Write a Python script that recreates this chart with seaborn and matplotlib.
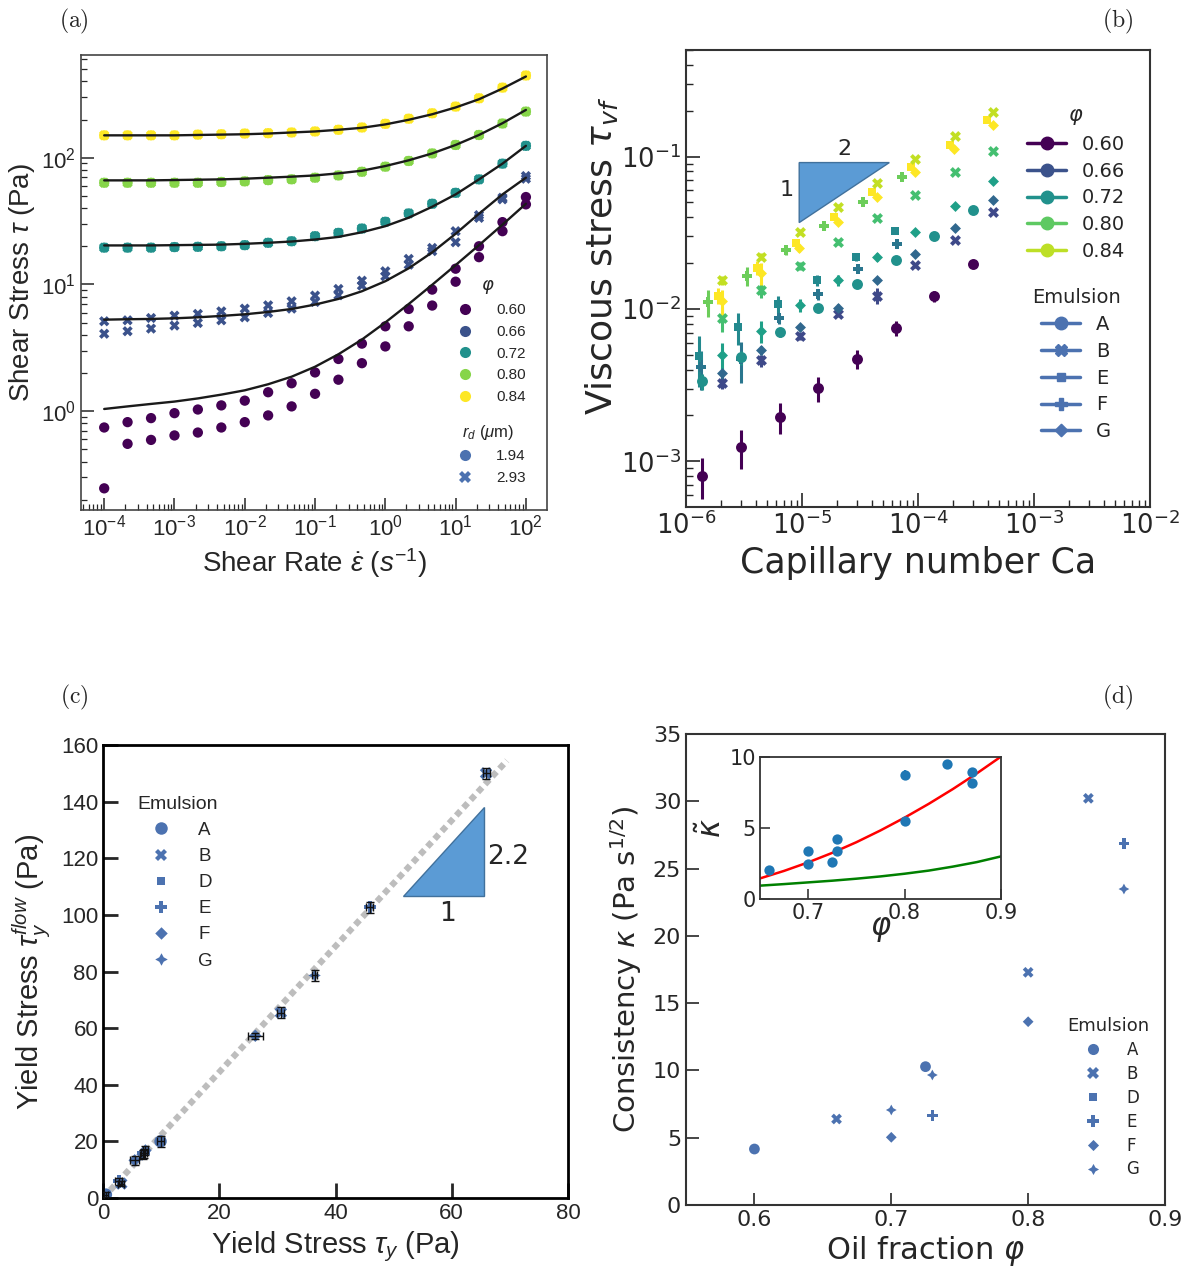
import numpy as np
import matplotlib.pyplot as plt
import pandas as pd
import seaborn as sns
from matplotlib.lines import Line2D
from matplotlib.ticker import LogLocator, NullFormatter

sns.set_style('ticks')
plt.rcParams['font.family'] = ['DejaVu Sans']
plt.rcParams['mathtext.fontset'] = 'dejavusans'
plt.rcParams['mathtext.rm'] = 'Liberation Sans'
plt.rcParams['mathtext.it'] = 'Liberation Sans:italic'
plt.rcParams['mathtext.bf'] = 'Liberation Sans:bold'

# %% data (a) flow curves
rate = [1e-4, 2.15e-4, 4.64e-4, 1e-3, 2.15e-3, 4.64e-3, 1e-2, 2.15e-2, 4.64e-2, 0.1,
        0.215, 0.464, 1.0, 2.15, 4.64, 10.0, 21.5, 46.4, 100.0]
tau_084 = [150, 150, 150, 150, 152, 153, 155, 156, 158, 161, 166, 173, 185, 203, 224, 253, 294, 357, 445]
tau_080 = [63.4, 63.4, 63.4, 63.4, 63.4, 64.3, 65.0, 66.5, 67.5, 69.5, 72.4, 77.4, 84.9, 94.2, 108, 126, 151, 186, 231]
tau_072 = [19.5, 19.5, 19.5, 19.7, 19.8, 20.0, 20.4, 21.3, 21.9, 24.0, 25.5, 27.6, 31.2, 36.3, 43.3, 52.8, 67.4, 89.7, 124]
tau_066_hi = [5.12, 5.21, 5.43, 5.67, 5.85, 6.13, 6.44, 6.84, 7.36, 8.16, 9.21, 10.7, 12.7, 15.9, 19.4, 26.3, 35.2, 48.3, 71.6]
tau_066_lo = [4.08, 4.27, 4.48, 4.73, 4.96, 5.21, 5.50, 5.95, 6.44, 7.27, 8.21, 9.79, 11.6, 14.3, 18.3, 21.5, 33.5, 46.9, 68.2]
tau_060_hi = [0.743, 0.819, 0.881, 0.964, 1.03, 1.11, 1.21, 1.41, 1.66, 2.02, 2.58, 3.41, 4.67, 6.40, 9.10, 13.3, 20.0, 31.0, 48.9]
tau_060_lo = [0.246, 0.552, 0.593, 0.643, 0.678, 0.743, 0.819, 0.925, 1.09, 1.37, 1.77, 2.39, 3.24, 4.67, 6.81, 10.5, 16.4, 26.3, 42.8]
fit_084 = [150, 150, 150, 150, 151, 152, 153, 155, 158, 161, 166, 172, 183, 199, 220, 249, 289, 351, 437]
fit_080 = [66.2, 66.2, 66.2, 66.6, 67.0, 67.4, 68.2, 69.5, 70.8, 72.4, 75.2, 78.9, 85.9, 95.3, 108, 126, 151, 187, 238]
fit_072 = [20.3, 20.3, 20.3, 20.4, 20.5, 20.6, 20.9, 21.3, 21.8, 22.6, 23.7, 25.8, 28.8, 33.6, 41.0, 51.3, 67.4, 89.7, 124]
fit_066 = [5.27, 5.31, 5.34, 5.40, 5.50, 5.64, 5.81, 6.06, 6.40, 6.93, 7.68, 8.83, 10.6, 13.4, 17.9, 25.1, 36.1, 51.3, 69.5]
fit_060 = [1.04, 1.09, 1.14, 1.19, 1.26, 1.35, 1.46, 1.63, 1.87, 2.24, 2.81, 3.67, 5.01, 7.00, 9.93, 14.2, 20.4, 29.6, 43.3]
phi_levels = ['0.60', '0.66', '0.72', '0.80', '0.84']
rd_levels = ['1.94', '2.93']
xticks_a = [1e-4, 1e-3, 1e-2, 1e-1, 1e0, 1e1, 1e2]
yticks_a = [1e0, 1e1, 1e2]

# %% data (b) viscous stress vs capillary number
ca_A = [1.38e-6, 2.98e-6, 6.40e-6, 1.38e-5, 2.97e-5, 6.41e-5, 1.37e-4, 2.96e-4]
ca_BG = [2.05e-6, 4.44e-6, 9.60e-6, 2.06e-5, 4.45e-5, 9.51e-5, 2.07e-4, 4.47e-4]
tvf_060_A = [8.05e-4, 1.25e-3, 1.95e-3, 3.01e-3, 4.71e-3, 7.48e-3, 1.21e-2, 1.97e-2]
err_060_A = [2.4e-4, 3.6e-4, 4.5e-4, 5.5e-4, 6.5e-4, 8.5e-4, 1.0e-3, 1.0e-3]
tvf_072_A = [3.35e-3, 4.81e-3, 7.05e-3, 1.02e-2, 1.46e-2, 2.10e-2, 3.03e-2, 4.47e-2]
err_072_A = [4e-4, 5e-4, 5e-4, 5e-4, 6e-4, 8e-4, 1e-3, 1e-3]
tvf_066_B = [3.27e-3, 4.59e-3, 6.61e-3, 9.29e-3, 1.22e-2, 1.93e-2, 2.84e-2, 4.30e-2]
err_066_B = [3e-4, 4e-4, 4e-4, 5e-4, 1.5e-3, 8e-4, 1e-3, 1.2e-3]
tvf_069_G = [3.79e-3, 5.35e-3, 7.60e-3, 1.02e-2, 1.55e-2, 2.30e-2, 3.42e-2, 5.20e-2]
err_069_G = [3e-4, 4e-4, 4e-4, 5e-4, 6e-4, 1e-3, 1.2e-3, 1.5e-3]
tvf_075_G = [5.00e-3, 7.19e-3, 1.06e-2, 1.54e-2, 2.21e-2, 3.22e-2, 4.75e-2, 6.97e-2]
err_075_G = [1e-3, 1.2e-3, 1.0e-3, 1.2e-3, 1.3e-3, 1.5e-3, 1.5e-3, 2e-3]
tvf_080_B = [8.71e-3, 1.34e-2, 1.92e-2, 2.77e-2, 3.98e-2, 5.61e-2, 7.89e-2, 1.09e-1]
err_080_B = [1.6e-3, 1.6e-3, 1.2e-3, 1.3e-3, 1.5e-3, 2e-3, 2e-3, 2e-3]
tvf_084_B = [1.54e-2, 2.21e-2, 3.22e-2, 4.70e-2, 6.76e-2, 9.66e-2, 1.37e-1, 1.95e-1]
err_084_B = [1e-3, 1.2e-3, 1.5e-3, 2e-3, 2.5e-3, 3e-3, 4e-3, 5e-3]
ca_F1 = [1.34e-6, 2.98e-6, 6.34e-6, 1.38e-5, 3.02e-5, 6.64e-5]
tvf_F1 = [4.13e-3, 4.69e-3, 8.71e-3, 1.25e-2, 1.83e-2, 2.68e-2]
err_F1 = [1.2e-3, 1.4e-3, 7e-4, 1e-3, 1e-3, 1.2e-3]
ca_E1 = [1.29e-6, 2.82e-6, 6.17e-6, 1.34e-5, 2.90e-5, 6.34e-5]
tvf_E1 = [4.89e-3, 7.57e-3, 1.08e-2, 1.55e-2, 2.21e-2, 3.26e-2]
err_E1 = [1.8e-3, 1.8e-3, 1.4e-3, 1.3e-3, 1.3e-3, 1.5e-3]
ca_F2 = [1.56e-6, 3.37e-6, 7.28e-6, 1.56e-5, 3.38e-5, 7.31e-5]
tvf_F2 = [1.11e-2, 1.65e-2, 2.42e-2, 3.48e-2, 5.02e-2, 7.31e-2]
err_F2 = [2.2e-3, 2.3e-3, 1.5e-3, 1.8e-3, 2e-3, 2.5e-3]
ca_E2 = [1.90e-6, 4.10e-6, 8.85e-6, 1.90e-5, 4.05e-5, 8.75e-5, 1.88e-4, 3.95e-4]
tvf_E2 = [1.22e-2, 1.87e-2, 2.72e-2, 4.02e-2, 5.85e-2, 8.50e-2, 1.20e-1, 1.75e-1]
err_E2 = [1.5e-3, 2e-3, 1.5e-3, 1.5e-3, 2e-3, 2e-3, 3e-3, 4e-3]
ca_G2 = [2.05e-6, 4.40e-6, 9.50e-6, 2.05e-5, 4.40e-5, 9.50e-5, 2.05e-4, 4.40e-4]
tvf_G2 = [1.12e-2, 1.72e-2, 2.52e-2, 3.72e-2, 5.45e-2, 7.90e-2, 1.12e-1, 1.62e-1]
err_G2 = [2.2e-3, 2.8e-3, 1.5e-3, 1.5e-3, 2e-3, 2e-3, 3e-3, 4e-3]
legend_phi_b = ['0.60', '0.66', '0.72', '0.80', '0.84']
emulsions_b = ['A', 'B', 'E', 'F', 'G']
tri_b_x = [9.46e-6, 5.66e-5, 9.46e-6]
tri_b_y = [0.0914, 0.0914, 0.0369]
xticks_b = [1e-6, 1e-5, 1e-4, 1e-3, 1e-2]
yticks_b = [1e-3, 1e-2, 1e-1]

# %% data (c) yield stress
emul_c = ['A', 'E', 'B', 'F', 'E', 'F', 'G', 'A', 'F', 'B', 'G', 'E', 'B']
tau_y_c = [0.5, 2.75, 3.15, 5.45, 7.0, 7.3, 6.8, 9.9, 26.2, 30.6, 36.4, 45.9, 65.9]
tau_flow_c = [1.2, 5.9, 5.1, 13.3, 15.8, 16.8, 15.3, 20.0, 57.3, 65.5, 78.6, 102.7, 150.0]
xerr_c = [0.3, 0.6, 0.5, 0.8, 0.5, 0.5, 0.5, 0.6, 1.3, 0.6, 0.5, 0.6, 0.6]
yerr_c = [0.8, 1.2, 1.0, 1.5, 1.5, 1.5, 1.5, 2.0, 1.0, 2.0, 2.0, 2.0, 2.0]
guide_c_x = [0.0, 69.5]
guide_c_y = [0.0, 154.5]
tri_c_x = [51.6, 65.5, 65.5]
tri_c_y = [106.5, 106.5, 138.2]
emulsions_cd = ['A', 'B', 'D', 'E', 'F', 'G']

# %% data (d) consistency
emul_d = ['A', 'A', 'B', 'B', 'B', 'E', 'E', 'F', 'F', 'G', 'G', 'G']
phi_d = [0.60, 0.725, 0.66, 0.80, 0.844, 0.73, 0.87, 0.70, 0.80, 0.70, 0.73, 0.87]
kappa_d = [4.16, 10.28, 6.39, 17.29, 30.22, 6.64, 26.87, 5.03, 13.62, 7.06, 9.66, 23.48]
phi_in = [0.659, 0.700, 0.700, 0.725, 0.730, 0.730, 0.800, 0.800, 0.844, 0.870, 0.870]
ktil_in = [2.05, 3.35, 2.45, 2.64, 4.25, 3.40, 5.47, 8.73, 9.53, 8.96, 8.18]
ktil_err = [0, 0, 0, 0, 0, 0, 0, 0.35, 0, 0, 0]
red_phi = [0.65, 0.675, 0.70, 0.725, 0.75, 0.775, 0.80, 0.825, 0.85, 0.875, 0.90]
red_k = [1.45, 1.98, 2.58, 3.25, 4.00, 4.83, 5.73, 6.70, 7.74, 8.85, 10.03]
green_phi = [0.65, 0.675, 0.70, 0.725, 0.75, 0.775, 0.80, 0.825, 0.85, 0.875, 0.90]
green_k = [0.94, 1.05, 1.17, 1.29, 1.43, 1.59, 1.78, 2.00, 2.28, 2.60, 3.00]

# %% styling helpers
pal_a = ['#440154', '#3b528b', '#21918c', '#86d549', '#fde725']
sns_blue = '#4c72b0'
mk = {'A': 'o', 'B': 'X', 'D': (4, 0, 45), 'E': 'P', 'F': (4, 0, 0), 'G': (4, 1, 0)}
mk_b = {'A': 'o', 'B': 'X', 'E': (4, 0, 45), 'F': 'P', 'G': (4, 0, 0)}

W, H = 1199, 1271
fig = plt.figure(figsize=(W / 100, H / 100), dpi=100)


def add_ax(l, t, r, b):
    return fig.add_axes([l / W, 1 - b / H, (r - l) / W, (b - t) / H])


def frame(ax, color, lw):
    for s in ax.spines.values():
        s.set_visible(True)
        s.set_color(color)
        s.set_linewidth(lw)


def log_minor(axis):
    axis.set_minor_locator(LogLocator(base=10, subs=np.arange(2, 10) * 1.0, numticks=30))
    axis.set_minor_formatter(NullFormatter())


# %% (a)
axa = add_ax(81, 55, 547, 510)
rows = []
for phi, rd, vals in [('0.60', '1.94', tau_060_hi), ('0.60', '1.94', tau_060_lo),
                      ('0.66', '2.93', tau_066_hi), ('0.66', '2.93', tau_066_lo),
                      ('0.72', '1.94', tau_072), ('0.72', '2.93', tau_072),
                      ('0.80', '1.94', tau_080), ('0.80', '2.93', tau_080),
                      ('0.84', '1.94', tau_084), ('0.84', '2.93', tau_084)]:
    for r, t in zip(rate, vals):
        rows.append((r, t, phi, rd))
dfa = pd.DataFrame(rows, columns=['rate', 'tau', 'phi', 'rd'])
sns.scatterplot(data=dfa, x='rate', y='tau', hue='phi', style='rd',
                palette=dict(zip(phi_levels, pal_a)),
                markers={'1.94': 'o', '2.93': 'X'}, s=55, linewidth=0,
                legend=False, ax=axa, zorder=2)
for fit in [fit_060, fit_066, fit_072, fit_080, fit_084]:
    axa.plot(rate, fit, color='#1a1a1a', lw=1.7, zorder=3, solid_joinstyle='round')
axa.set(xscale='log', yscale='log', xlim=(10 ** -4.33, 10 ** 2.3), ylim=(10 ** -0.78, 10 ** 2.81))
axa.set_xticks(xticks_a)
axa.set_yticks(yticks_a)
log_minor(axa.xaxis)
log_minor(axa.yaxis)
frame(axa, '#444444', 1.2)
axa.tick_params(which='both', direction='in', top=False, right=False,
                labelsize=16, labelfontfamily='Liberation Sans')
axa.tick_params(which='major', length=9, width=1.1)
axa.tick_params(which='minor', length=4.5, width=0.9)
axa.set_xlabel(r'Shear Rate $\dot{\varepsilon}$ ($s^{-1}$)', fontsize=20,
               family='Liberation Sans', math_fontfamily='custom', labelpad=4)
axa.set_ylabel(r'Shear Stress $\tau$ (Pa)', fontsize=20,
               family='Liberation Sans', math_fontfamily='custom', labelpad=3)
lprop = {'family': 'Liberation Sans', 'size': 11}
h_phi = [Line2D([], [], ls='none', marker='o', ms=8, color=c, mew=0) for c in pal_a]
leg1 = axa.legend(h_phi, phi_levels, title=r'$\varphi$', loc='upper center',
                  bbox_to_anchor=(0.873, 0.545), frameon=False, prop=lprop,
                  title_fontsize=13, labelspacing=0.5, handletextpad=1.0)
axa.add_artist(leg1)
h_rd = [Line2D([], [], ls='none', marker=m, ms=8, color=sns_blue, mew=0) for m in ['o', 'X']]
leg2 = axa.legend(h_rd, rd_levels, title=r'$r_d$ ($\mu$m)', loc='upper center',
                  bbox_to_anchor=(0.873, 0.222), frameon=False, prop=lprop,
                  title_fontsize=12, labelspacing=0.5, handletextpad=1.0)
leg2.get_title().set_family('Liberation Sans')
leg2.get_title().set_math_fontfamily('custom')

# %% (b)
axb = add_ax(686, 50, 1150, 507)
series_b = [
    (ca_A, tvf_060_A, err_060_A, '#440154', 'A'),
    (ca_BG, tvf_066_B, err_066_B, '#3e4989', 'B'),
    (ca_BG, tvf_069_G, err_069_G, '#31688e', 'G'),
    (ca_F1, tvf_F1, err_F1, '#2a768e', 'F'),
    (ca_E1, tvf_E1, err_E1, '#23898e', 'E'),
    (ca_A, tvf_072_A, err_072_A, '#21918c', 'A'),
    (ca_BG, tvf_075_G, err_075_G, '#1fa088', 'G'),
    (ca_BG, tvf_080_B, err_080_B, '#44bf70', 'B'),
    (ca_F2, tvf_F2, err_F2, '#6ccd5a', 'F'),
    (ca_E2, tvf_E2, err_E2, '#fde725', 'E'),
    (ca_G2, tvf_G2, err_G2, '#fde725', 'G'),
    (ca_BG, tvf_084_B, err_084_B, '#c2df23', 'B'),
]
for x, y, e, c, em in series_b:
    axb.errorbar(x, y, yerr=e, fmt='none', ecolor=c, elinewidth=2.2, zorder=1)
    sns.scatterplot(x=x, y=y, color=c, marker=mk_b[em], s=62, linewidth=0, ax=axb, zorder=2)
axb.fill(tri_b_x, tri_b_y, facecolor='#5b9bd5', edgecolor='#41719c', lw=1, zorder=0)
axb.text(2.32e-5, 0.112, '2', fontsize=16, ha='center', va='center')
axb.text(7.4e-6, 0.060, '1', fontsize=16, ha='center', va='center')
axb.set(xscale='log', yscale='log', xlim=(1e-6, 1e-2), ylim=(10 ** -3.3, 10 ** -0.3))
axb.set_xticks(xticks_b)
axb.set_yticks(yticks_b)
log_minor(axb.xaxis)
log_minor(axb.yaxis)
frame(axb, '#333333', 1.5)
axb.tick_params(which='both', direction='in', top=False, right=False, labelsize=18.5)
axb.tick_params(which='major', length=10, width=1.2)
axb.tick_params(which='minor', length=5, width=1.0)
axb.set_xlabel('Capillary number Ca', fontsize=25, labelpad=4)
axb.set_ylabel(r'Viscous stress $\tau_{vf}$', fontsize=26)
axb.yaxis.set_label_coords(-0.143, 0.55)
h_b1 = [Line2D([], [], color=c, marker='o', lw=2.5, ms=9) for c in
        ['#440154', '#3b528b', '#21918c', '#5ec962', '#bddf26']]
lb1 = axb.legend(h_b1, legend_phi_b, title=r'$\varphi$', loc='upper center',
                 bbox_to_anchor=(0.841, 0.918), frameon=False, fontsize=14,
                 title_fontsize=15, labelspacing=0.4, handlelength=2.0)
axb.add_artist(lb1)
h_b2 = [Line2D([], [], color=sns_blue, marker=mk_b[k], lw=2.5, ms=9) for k in emulsions_b]
axb.legend(h_b2, emulsions_b, title='Emulsion', loc='upper center',
           bbox_to_anchor=(0.841, 0.517), frameon=False, fontsize=14,
           title_fontsize=14, labelspacing=0.4, handlelength=2.0)

# %% (c)
axc = add_ax(103, 745, 568, 1198)
dfc = pd.DataFrame({'tau_y': tau_y_c, 'tau_flow': tau_flow_c, 'emulsion': emul_c})
axc.plot(guide_c_x, guide_c_y, color='#bdbdbd', lw=4.5, dashes=(1, 0.7),
         dash_capstyle='butt', zorder=1)
sns.scatterplot(data=dfc, x='tau_y', y='tau_flow', style='emulsion', markers=mk,
                color=sns_blue, s=80, linewidth=0, legend=False, ax=axc, zorder=2)
axc.errorbar(tau_y_c, tau_flow_c, xerr=xerr_c, yerr=yerr_c, fmt='none', ecolor='#111111',
             elinewidth=1.0, capsize=3, zorder=3)
axc.fill(tri_c_x, tri_c_y, facecolor='#5b9bd5', edgecolor='#41719c', lw=1, zorder=0)
axc.text(69.7, 120.6, '2.2', fontsize=19, ha='center', va='center')
axc.text(59.3, 100.2, '1', fontsize=19, ha='center', va='center')
axc.set(xlim=(0, 80), ylim=(0, 160), xticks=[0, 20, 40, 60, 80],
        yticks=[0, 20, 40, 60, 80, 100, 120, 140, 160])
frame(axc, 'black', 2)
axc.tick_params(direction='in', length=11, width=2, top=False, right=False,
                labelsize=16, labelfontfamily='Liberation Sans')
axc.set_xlabel(r'Yield Stress $\tau_y$ (Pa)', fontsize=21, family='Liberation Sans',
               math_fontfamily='custom', labelpad=4)
axc.set_ylabel(r'Yield Stress $\tau_y^{flow}$ (Pa)', fontsize=21, family='Liberation Sans',
               math_fontfamily='custom', labelpad=6)
h_c = [Line2D([], [], ls='none', marker=mk[k], ms=9, color=sns_blue, mew=0) for k in emulsions_cd]
lc = axc.legend(h_c, emulsions_cd, title='Emulsion', loc='upper center',
                bbox_to_anchor=(0.16, 0.925), frameon=False,
                prop={'family': 'Liberation Sans', 'size': 13.5},
                title_fontproperties={'family': 'Liberation Sans', 'size': 14},
                labelspacing=0.48, handletextpad=1.0)

# %% (d)
axd = add_ax(686, 734, 1165, 1205)
dfd = pd.DataFrame({'phi': phi_d, 'kappa': kappa_d, 'emulsion': emul_d})
sns.scatterplot(data=dfd, x='phi', y='kappa', style='emulsion', markers=mk,
                color=sns_blue, s=60, linewidth=0, legend=False, ax=axd)
axd.set(xlim=(0.55, 0.9), ylim=(0, 35), xticks=[0.6, 0.7, 0.8, 0.9],
        yticks=[0, 5, 10, 15, 20, 25, 30, 35])
frame(axd, '#333333', 1.5)
axd.tick_params(direction='in', length=9, width=1.2, top=False, right=False, labelsize=16)
axd.set_xlabel(r'Oil fraction $\varphi$', fontsize=22, labelpad=3)
axd.set_ylabel(r'Consistency $\kappa$ (Pa s$^{1/2}$)', fontsize=21, labelpad=6)
h_d = [Line2D([], [], ls='none', marker=mk[k], ms=8, color=sns_blue, mew=0) for k in emulsions_cd]
axd.legend(h_d, emulsions_cd, title='Emulsion', loc='upper center',
           bbox_to_anchor=(0.881, 0.43), frameon=False, fontsize=12,
           title_fontsize=13, labelspacing=0.35, handletextpad=1.0)

axi = add_ax(760, 757, 1001, 899)
axi.plot(red_phi, red_k, color='red', lw=1.8)
axi.plot(green_phi, green_k, color='green', lw=1.8)
axi.errorbar(phi_in, ktil_in, yerr=ktil_err, fmt='none', ecolor='#1f77b4', elinewidth=1.5)
sns.scatterplot(x=phi_in, y=ktil_in, color='#1f77b4', s=55, linewidth=0, ax=axi, zorder=3)
axi.set(xlim=(0.65, 0.9), ylim=(0, 10), xticks=[0.7, 0.8, 0.9], yticks=[0, 5, 10])
frame(axi, '#333333', 1.3)
axi.tick_params(direction='in', length=7, width=1.1, top=False, right=False, labelsize=15, pad=3)
axi.set_xlabel(r'$\varphi$', fontsize=22, labelpad=-6)
axi.set_ylabel(r'$\tilde{\kappa}$', fontsize=22, labelpad=2)

# %% panel labels
for lab, px, py in [('(a)', 74, 21), ('(b)', 1118, 21), ('(c)', 74, 697), ('(d)', 1118, 697)]:
    fig.text(px / W, 1 - py / H, r'$\mathrm{' + lab + '}$', fontsize=17,
             math_fontfamily='cm', ha='center', va='center')

fig.savefig('out.png', dpi=100)
